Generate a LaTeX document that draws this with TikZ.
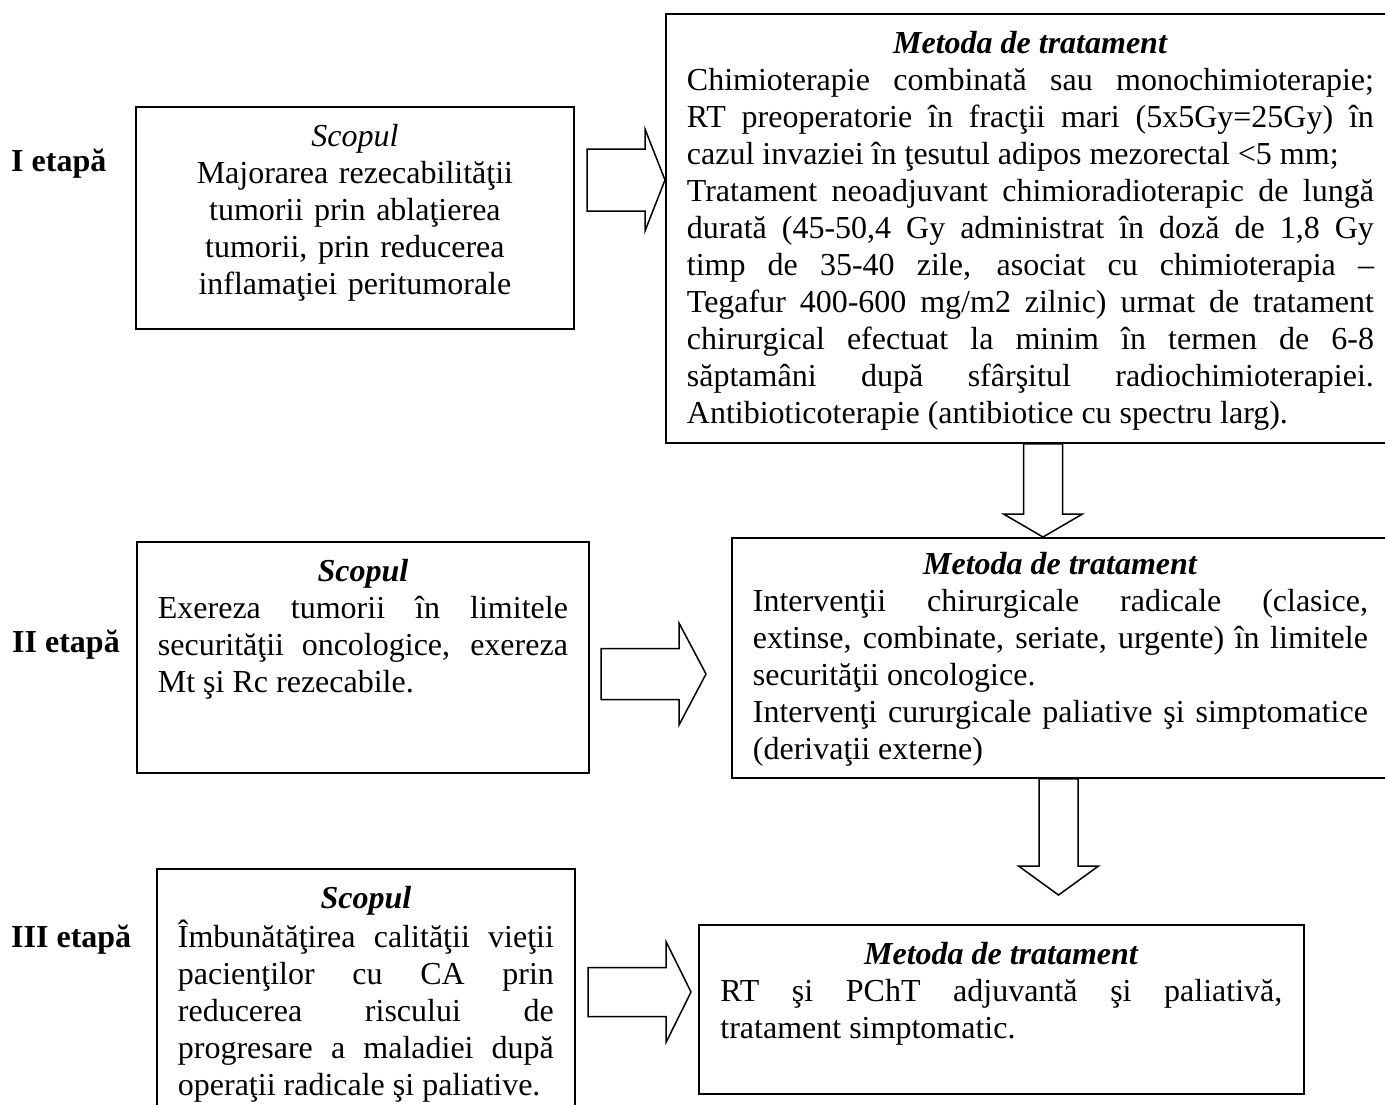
\documentclass[tikz,border=0pt]{standalone}
\usepackage{fontspec}
\setmainfont{Liberation Serif}
\usetikzlibrary{calc}
\setlength{\parindent}{0pt}

% sizes of the hollow block arrows
\tikzset{
  shaft/.store in=\arrshaft, shaft=25pt,
  barb/.store in=\arrbarb, barb=50pt,
  tiplen/.store in=\arrtip, tiplen=25pt
}

\begin{document}
\begin{tikzpicture}[
  x=1pt, y=-1pt,
  every node/.style={font=\fontsize{32}{37}\selectfont},
  box/.style={draw, line width=1.8pt, inner sep=0pt, anchor=north west},
  boxtext/.style={inner sep=0pt, anchor=north, align=justify,
    font={\fontsize{32}{37}\selectfont\tolerance=10000\hyphenpenalty=10000}},
  stage/.style={inner sep=0pt, anchor=base west, font=\fontsize{32}{37}\selectfont\bfseries},
  fat right/.style={draw, line width=1.5pt, to path={
    let \p1=(\tikztostart), \p2=(\tikztotarget) in
    (\x1,\y1+\arrshaft) -- (\x2-\arrtip,\y1+\arrshaft) -- (\x2-\arrtip,\y1+\arrbarb)
    -- (\x2,\y1) -- (\x2-\arrtip,\y1-\arrbarb) -- (\x2-\arrtip,\y1-\arrshaft)
    -- (\x1,\y1-\arrshaft) -- cycle}},
  fat down/.style={draw, line width=1.5pt, to path={
    let \p1=(\tikztostart), \p2=(\tikztotarget) in
    (\x1-\arrshaft,\y1) -- (\x1-\arrshaft,\y2+\arrtip) -- (\x1-\arrbarb,\y2+\arrtip)
    -- (\x1,\y2) -- (\x1+\arrbarb,\y2+\arrtip) -- (\x1+\arrshaft,\y2+\arrtip)
    -- (\x1+\arrshaft,\y1) -- cycle}}
]
\useasboundingbox (0,0) rectangle (1385,1104);
\clip (0,0) rectangle (1385,1104);

% stages
\node[stage] (st1) at (11,171) {I etapă};
\node[stage] (st2) at (12,652) {II etapă};
\node[stage] (st3) at (11,947) {III etapă};

% frames
\node[box, minimum width=438pt, minimum height=222pt] (s1) at (135,106) {};
\node[box, minimum width=729pt, minimum height=429pt] (m1) at (665,13) {};
\node[box, minimum width=452pt, minimum height=231pt] (s2) at (136,541) {};
\node[box, minimum width=657pt, minimum height=240pt] (m2) at (731,537) {};
\node[box, minimum width=418pt, minimum height=260pt] (s3) at (156,868) {};
\node[box, minimum width=605pt, minimum height=169pt] (m3) at (698,924) {};

% texts
\node[boxtext, align=center, text width=396pt, yshift=-14pt] (s1t) at (s1.north) {%
  \strut\textit{Scopul}\\
  Majorarea rezecabilităţii\\
  tumorii prin ablaţierea\\
  tumorii, prin reducerea\\
  inflamaţiei peritumorale};

\node[boxtext, text width=687pt, yshift=-14pt] (m1t) at (m1.north) {%
  {\centering\strut\textbf{\textit{Metoda de tratament}}\par}
  Chimioterapie combinată sau monochimioterapie;\linebreak
  RT preoperatorie în fracţii mari (5x5Gy=25Gy) în\linebreak
  cazul invaziei în ţesutul adipos mezorectal <5 mm;\par
  Tratament neoadjuvant chimioradioterapic de lungă\linebreak
  durată (45-50,4 Gy administrat în doză de 1,8 Gy\linebreak
  timp de 35-40 zile, asociat cu chimioterapia –\linebreak
  Tegafur 400-600 mg/m2 zilnic) urmat de tratament\linebreak
  chirurgical efectuat la minim în termen de 6-8\linebreak
  săptamâni după sfârşitul radiochimioterapiei.\linebreak
  Antibioticoterapie (antibiotice cu spectru larg).};

\node[boxtext, text width=410pt, yshift=-14pt] (s2t) at (s2.north) {%
  {\centering\strut\textbf{\textit{Scopul}}\par}
  Exereza tumorii în limitele\linebreak
  securităţii oncologice, exereza\linebreak
  Mt şi Rc rezecabile.};

\node[boxtext, text width=615pt, yshift=-11pt] (m2t) at (m2.north) {%
  {\centering\strut\textbf{\textit{Metoda de tratament}}\par}
  Intervenţii chirurgicale radicale (clasice,\linebreak
  extinse, combinate, seriate, urgente) în limitele\linebreak
  securităţii oncologice.\par
  Intervenţi cururgicale paliative şi simptomatice\linebreak
  (derivaţii externe)};

\node[boxtext, text width=376pt, yshift=-14pt] (s3t) at (s3.north) {%
  {\centering\strut\textbf{\textit{Scopul}}\par}
  Îmbunătăţirea calităţii vieţii\linebreak
  pacienţilor cu CA prin\linebreak
  reducerea riscului de\linebreak
  progresare a maladiei după\linebreak
  operaţii radicale şi paliative.};

\node[boxtext, text width=562pt, yshift=-14pt] (m3t) at (m3.north) {%
  {\centering\strut\textbf{\textit{Metoda de tratament}}\par}
  RT şi PChT adjuvantă şi paliativă,\linebreak
  tratament simptomatic.};

% arrows
\coordinate (a1) at (587,180);
\coordinate (a2) at (601,674);
\coordinate (a3) at (588,992);
\coordinate (d1) at (1043,0);
\coordinate (d2) at (1058.5,895);

\draw[fat right, shaft=31pt, barb=51pt, tiplen=20pt] (a1) to (a1 -| m1.west);
\draw[fat right, shaft=25.5pt, barb=51pt, tiplen=27pt] (a2) to ($(a2 -| m2.west)+(-25,0)$);
\draw[fat right, shaft=24.5pt, barb=50.5pt, tiplen=25pt] (a3) to ($(a3 -| m3.west)+(-7,0)$);
\draw[fat down, shaft=19.5pt, barb=39.5pt, tiplen=23pt] (d1 |- m1.south) to (d1 |- m2.north);
\draw[fat down, shaft=19.5pt, barb=40pt, tiplen=29pt] (d2 |- m2.south) to (d2);

\end{tikzpicture}
\end{document}
